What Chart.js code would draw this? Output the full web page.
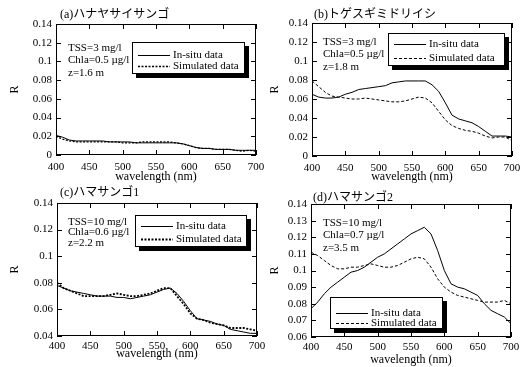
<!DOCTYPE html>
<html>
<head>
<meta charset="utf-8">
<script src="https://cdn.jsdelivr.net/npm/chart.js@4.4.1/dist/chart.umd.min.js"></script>
<style>
  html, body { margin: 0; padding: 0; background: #fff; overflow: hidden; }
  #wrap { position: relative; width: 520px; height: 367px; overflow: hidden; }
  canvas { position: absolute; }
</style>
</head>
<body>
<div id="wrap">
  <canvas id="ca"></canvas>
  <canvas id="cb"></canvas>
  <canvas id="cc"></canvas>
  <canvas id="cd"></canvas>
</div>
<script>
// 波長 (nm)
const wavelengths = [400, 410, 420, 430, 440, 450, 460, 470, 480, 490, 500, 510, 520, 530, 540, 550,
  560, 570, 580, 590, 600, 610, 620, 630, 640, 650, 660, 670, 680, 690, 700];

// (a) ハナヤサイサンゴ
const insituA = [0.021, 0.019, 0.016, 0.015, 0.015, 0.015, 0.015, 0.015, 0.014, 0.014, 0.014, 0.014, 0.013, 0.013, 0.013, 0.013,
  0.013, 0.013, 0.013, 0.012, 0.010, 0.008, 0.007, 0.007, 0.006, 0.006, 0.006, 0.005, 0.005, 0.005, 0.005];
const simA = [0.020, 0.017, 0.015, 0.014, 0.014, 0.014, 0.014, 0.014, 0.014, 0.014, 0.013, 0.013, 0.013, 0.014, 0.014, 0.014,
  0.014, 0.014, 0.013, 0.012, 0.010, 0.008, 0.007, 0.007, 0.006, 0.006, 0.006, 0.005, 0.004, 0.005, 0.004];

// (b) トゲスギミドリイシ
const insituB = [0.065, 0.062, 0.061, 0.061, 0.062, 0.065, 0.067, 0.070, 0.071, 0.072, 0.073, 0.074, 0.077, 0.078, 0.079, 0.079,
  0.079, 0.079, 0.075, 0.068, 0.056, 0.043, 0.039, 0.037, 0.035, 0.031, 0.026, 0.021, 0.021, 0.021, 0.020];
const simB = [0.079, 0.073, 0.067, 0.063, 0.062, 0.061, 0.060, 0.060, 0.061, 0.060, 0.059, 0.058, 0.057, 0.057, 0.058, 0.060,
  0.062, 0.061, 0.056, 0.047, 0.038, 0.032, 0.029, 0.027, 0.026, 0.024, 0.021, 0.019, 0.020, 0.020, 0.016];

// (c) ハマサンゴ1
const insituC = [0.078, 0.076, 0.074, 0.073, 0.072, 0.071, 0.070, 0.070, 0.070, 0.069, 0.069, 0.068, 0.069, 0.070, 0.071, 0.073,
  0.075, 0.076, 0.072, 0.066, 0.059, 0.053, 0.052, 0.051, 0.049, 0.048, 0.045, 0.044, 0.043, 0.042, 0.042];
const simC = [0.080, 0.076, 0.074, 0.072, 0.070, 0.070, 0.070, 0.070, 0.071, 0.072, 0.071, 0.070, 0.070, 0.071, 0.072, 0.074,
  0.076, 0.076, 0.070, 0.064, 0.057, 0.053, 0.052, 0.050, 0.049, 0.048, 0.046, 0.046, 0.046, 0.045, 0.044];

// (d) ハマサンゴ2
const insituD = [0.077, 0.081, 0.086, 0.090, 0.093, 0.096, 0.099, 0.100, 0.102, 0.105, 0.108, 0.110, 0.113, 0.116, 0.119, 0.122,
  0.124, 0.126, 0.122, 0.112, 0.100, 0.092, 0.090, 0.089, 0.087, 0.085, 0.080, 0.076, 0.074, 0.072, 0.068];
const simD = [0.111, 0.109, 0.106, 0.103, 0.101, 0.101, 0.102, 0.102, 0.103, 0.104, 0.103, 0.102, 0.102, 0.103, 0.105, 0.107,
  0.108, 0.107, 0.102, 0.095, 0.090, 0.087, 0.085, 0.084, 0.083, 0.082, 0.081, 0.081, 0.081, 0.082, 0.080];

// 軸の目盛
const xTicks = [400, 450, 500, 550, 600, 650, 700];
const yTicksAB = [0, 0.02, 0.04, 0.06, 0.08, 0.1, 0.12, 0.14];
const yTicksC = [0.04, 0.06, 0.08, 0.1, 0.12, 0.14];
const yTicksD = [0.06, 0.07, 0.08, 0.09, 0.1, 0.11, 0.12, 0.13, 0.14];

const titles = ['(a)ハナヤサイサンゴ', '(b)トゲスギミドリイシ', '(c)ハマサンゴ1', '(d)ハマサンゴ2'];
const notes = [
  ['TSS=3 mg/l', 'Chla=0.5 µg/l', 'z=1.6 m'],
  ['TSS=3 mg/l', 'Chla=0.5 µg/l', 'z=1.8 m'],
  ['TSS=10 mg/l', 'Chla=0.6 µg/l', 'z=2.2 m'],
  ['TSS=10 mg/l', 'Chla=0.7 µg/l', 'z=3.5 m']
];
const legendLabels = ['In-situ data', 'Simulated data'];

const SERIF = '"Liberation Serif", "Times New Roman", "Noto Sans CJK JP", serif';
const JP = '"Liberation Serif", "Noto Sans CJK JP", sans-serif';

// パネルの配置 (キャンバス内の座標)
const panels = [
  { id: 'ca', left: 0, top: 0, w: 280, h: 185, plot: [56, 24, 256, 155], insitu: insituA, sim: simA, yt: yTicksAB,
    simDash: [2, 1.5], simWidth: 1.3, tickPad: 6, xTitlePad: 1,
    title: [60, 15], note: [68, 48, 12.5], legend: [132, 42, 113, 32, 13, 24] },
  { id: 'cb', left: 260, top: 0, w: 280, h: 185, plot: [52, 23, 252, 156], insitu: insituB, sim: simB, yt: yTicksAB,
    simDash: [3, 2], simWidth: 1, tickPad: 6, xTitlePad: 1,
    title: [54, 15], note: [63, 42, 12.5], legend: [128, 33, 117, 33, 11, 25] },
  { id: 'cc', left: 0, top: 180, w: 280, h: 187, plot: [57, 23, 257, 156], insitu: insituC, sim: simC, yt: yTicksC,
    simDash: [2, 1.5], simWidth: 1.8, tickPad: 4, xTitlePad: 6,
    title: [60, 13], note: [68, 42, 10.5], legend: [135, 35, 112, 32, 11, 24] },
  { id: 'cd', left: 260, top: 180, w: 280, h: 187, plot: [51, 24, 251, 157], insitu: insituD, sim: simD, yt: yTicksD,
    simDash: [3, 2], simWidth: 1, tickPad: 4, xTitlePad: 0,
    title: [53, 18], note: [63, 43, 12.5], legend: [70, 117, 113, 32, 16, 26] }
];

function fmt(v) {
  return String(+v.toFixed(2));
}

function makeFrame(p) {
  return {
    id: 'frame',
    afterDraw(chart) {
      const ctx = chart.ctx;
      const a = chart.chartArea;
      const xs = chart.scales.x, ys = chart.scales.y;
      ctx.save();
      ctx.strokeStyle = '#000';
      ctx.lineWidth = 1;
      ctx.strokeRect(a.left + 0.5, a.top + 0.5, a.right - a.left - 1, a.bottom - a.top - 1);
      // 内向きの目盛
      ctx.beginPath();
      xTicks.forEach(v => {
        const x = Math.round(xs.getPixelForValue(v)) + 0.5;
        ctx.moveTo(x, a.bottom); ctx.lineTo(x, a.bottom - 5);
        ctx.moveTo(x, a.top); ctx.lineTo(x, a.top + 5);
      });
      p.yt.forEach(v => {
        const y = Math.round(ys.getPixelForValue(v)) + 0.5;
        ctx.moveTo(a.left, y); ctx.lineTo(a.left + 5, y);
        ctx.moveTo(a.right, y); ctx.lineTo(a.right - 5, y);
      });
      ctx.stroke();

      // タイトル
      ctx.fillStyle = '#000';
      ctx.textBaseline = 'middle';
      ctx.textAlign = 'left';
      ctx.font = '12px ' + JP;
      ctx.fillText(titles[p.idx], p.title[0], p.title[1]);

      // 条件
      ctx.font = '11px ' + SERIF;
      notes[p.idx].forEach((t, i) => ctx.fillText(t, p.note[0], p.note[1] + i * p.note[2]));

      // 凡例
      const [lx, ly, lw, lh, r1, r2] = p.legend;
      ctx.fillStyle = '#000';
      ctx.fillRect(lx + 4, ly + 4, lw, lh);
      ctx.fillStyle = '#fff';
      ctx.fillRect(lx, ly, lw, lh);
      ctx.strokeRect(lx + 0.5, ly + 0.5, lw - 1, lh - 1);
      const ds = chart.data.datasets;
      [r1, r2].forEach((ry, i) => {
        ctx.beginPath();
        ctx.lineWidth = ds[i].borderWidth;
        ctx.setLineDash(ds[i].borderDash || []);
        ctx.moveTo(lx + 6, ly + ry + 0.5);
        ctx.lineTo(lx + 38, ly + ry + 0.5);
        ctx.stroke();
        ctx.setLineDash([]);
        ctx.fillStyle = '#000';
        ctx.fillText(legendLabels[i], lx + 41, ly + ry);
      });
      ctx.restore();
    }
  };
}

panels.forEach((p, idx) => {
  p.idx = idx;
  const el = document.getElementById(p.id);
  el.style.left = p.left + 'px';
  el.style.top = p.top + 'px';
  el.width = p.w;
  el.height = p.h;
  el.style.width = p.w + 'px';
  el.style.height = p.h + 'px';
  const [pl, pt, pr, pb] = p.plot;

  new Chart(el, {
    type: 'line',
    data: {
      datasets: [
        { label: legendLabels[0], data: wavelengths.map((w, i) => ({ x: w, y: p.insitu[i] })),
          borderColor: '#000', borderWidth: 1, pointRadius: 0, tension: 0, fill: false },
        { label: legendLabels[1], data: wavelengths.map((w, i) => ({ x: w, y: p.sim[i] })),
          borderColor: '#000', borderWidth: p.simWidth, borderDash: p.simDash, pointRadius: 0, tension: 0, fill: false }
      ]
    },
    options: {
      responsive: false,
      animation: false,
      devicePixelRatio: 1,
      layout: { padding: { left: 0, top: pt, right: p.w - pr, bottom: 0 } },
      plugins: { legend: { display: false }, tooltip: { enabled: false } },
      scales: {
        x: {
          type: 'linear', min: 400, max: 700,
          grid: { display: false, drawTicks: false },
          border: { display: false },
          afterBuildTicks: s => { s.ticks = xTicks.map(v => ({ value: v })); },
          afterFit: s => { s.height = p.h - pb; },
          ticks: { autoSkip: false, maxRotation: 0, padding: p.tickPad, color: '#000',
            font: { family: SERIF, size: 11 } },
          title: { display: true, text: 'wavelength (nm)', color: '#000',
            font: { family: SERIF, size: 12 }, padding: { top: 0, bottom: p.xTitlePad } }
        },
        y: {
          type: 'linear', min: p.yt[0], max: p.yt[p.yt.length - 1],
          grid: { display: false, drawTicks: false },
          border: { display: false },
          afterBuildTicks: s => { s.ticks = p.yt.map(v => ({ value: v })); },
          afterFit: s => { s.width = pl; },
          ticks: { autoSkip: false, padding: 4, color: '#000', callback: v => fmt(v),
            font: { family: SERIF, size: 11 } },
          title: { display: true, text: 'R', color: '#000',
            font: { family: SERIF, size: 12 }, padding: { top: 8, bottom: 0 } }
        }
      }
    },
    plugins: [makeFrame(p)]
  });
});
</script>
</body>
</html>
